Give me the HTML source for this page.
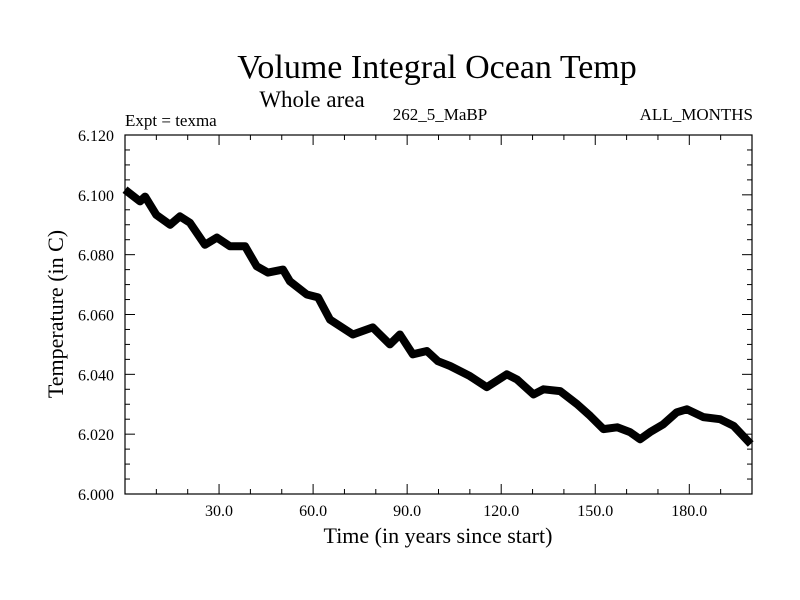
<!DOCTYPE html>
<html><head><meta charset="utf-8"><style>
body{margin:0;background:#fff}
svg{display:block;font-family:"Liberation Serif",serif}
</style></head><body>
<svg id="chart" width="800" height="600">
<text x="437" y="78" font-size="34" text-anchor="middle">Volume Integral Ocean Temp</text>
<text x="312" y="107" font-size="23" text-anchor="middle">Whole area</text>
<text x="125" y="126" font-size="17">Expt = texma</text>
<text x="440" y="120" font-size="17" text-anchor="middle">262_5_MaBP</text>
<text x="753" y="120" font-size="17" text-anchor="end">ALL_MONTHS</text>
<text x="438" y="543" font-size="22" text-anchor="middle">Time (in years since start)</text>
<text x="0" y="0" font-size="22" text-anchor="middle" transform="translate(63,314) rotate(-90)">Temperature (in C)</text>
<g id="axes"></g>
<g id="marks"></g>
</svg>
<script>
const years=[0,4.8,6.4,10,14.4,17.5,20.7,25.5,29.3,33.5,38.3,42,45.6,50.4,52.6,58,61.6,65.4,72.7,79,84.5,87.7,91.8,96.3,99.8,103.7,110,115.4,121.8,125,130.3,133.5,138.8,144.2,148.4,152.6,157,161.1,164.3,167.5,171.7,176,179.2,184.5,189.8,194.1,199.6];
const temps=[6.1017,6.0978,6.0994,6.0933,6.09,6.0928,6.0907,6.0833,6.0857,6.0828,6.0828,6.0761,6.074,6.075,6.0711,6.0667,6.0657,6.0583,6.0533,6.0557,6.05,6.0533,6.0467,6.0478,6.0444,6.0428,6.0394,6.0357,6.04,6.0383,6.0333,6.035,6.0344,6.03,6.0261,6.0217,6.0223,6.0207,6.0183,6.0207,6.0233,6.0273,6.0283,6.0257,6.025,6.0228,6.0167];
const xTickVals=[30,60,90,120,150,180];
const xTickLabels=["30.0","60.0","90.0","120.0","150.0","180.0"];
const yTickVals=[6.0,6.02,6.04,6.06,6.08,6.1,6.12];
const yTickLabels=["6.000","6.020","6.040","6.060","6.080","6.100","6.120"];
const L=125,R=752,T=135,B=494,X0=0,X1=200,Y0=6.0,Y1=6.12;
const sx=v=>L+(v-X0)/(X1-X0)*(R-L);
const sy=v=>B-(v-Y0)/(Y1-Y0)*(B-T);
const NS='http://www.w3.org/2000/svg';
const ax=document.getElementById('axes'),mk=document.getElementById('marks');
function mkEl(t,a,p){const e=document.createElementNS(NS,t);for(const k in a)e.setAttribute(k,a[k]);p.appendChild(e);return e;}
const frame=mkEl('rect',{x:L,y:T,width:R-L,height:B-T,fill:'none',stroke:'#000','stroke-width':1.2},ax);


for(let v=10;v<200;v+=10){const major=v%30===0,len=major?10:5;
 const a=mkEl('line',{x1:sx(v),x2:sx(v),y1:B,y2:B-len,stroke:'#000'},ax);
 
 
 const b=mkEl('line',{x1:sx(v),x2:sx(v),y1:T,y2:T+len,stroke:'#000'},ax);
 
 }
for(let i=1;i<24;i++){const v=Y0+i*0.005,major=i%4===0,len=major?10:5;
 const a=mkEl('line',{x1:L,x2:L+len,y1:sy(v),y2:sy(v),stroke:'#000'},ax);
 
 
 const b=mkEl('line',{x1:R,x2:R-len,y1:sy(v),y2:sy(v),stroke:'#000'},ax);
 
 }
xTickVals.forEach((v,i)=>{const t=mkEl('text',{x:sx(v),y:516,'font-size':16,'text-anchor':'middle'},ax);t.textContent=xTickLabels[i];
 
 });
yTickVals.forEach((v,i)=>{const t=mkEl('text',{x:114,y:sy(v)+6,'font-size':16,'text-anchor':'end'},ax);t.textContent=yTickLabels[i];
 
 });
const pts=years.map((y,i)=>sx(y).toFixed(1)+','+sy(temps[i]).toFixed(1)).join(' ');
const line=mkEl('polyline',{points:pts,fill:'none',stroke:'#000','stroke-width':8,'stroke-linejoin':'round','stroke-linecap':'butt'},mk);


</script>
</body></html>
